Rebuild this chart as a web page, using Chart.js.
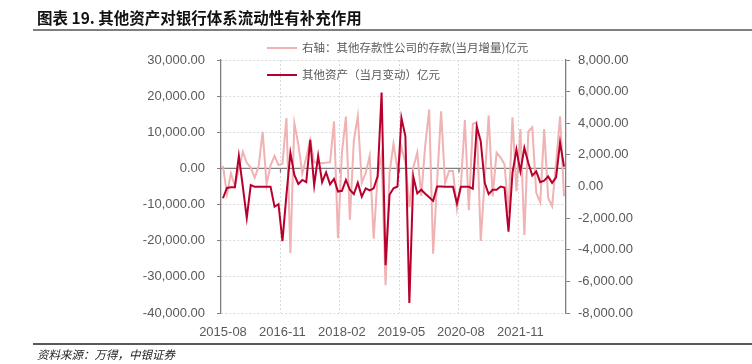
<!DOCTYPE html>
<html><head><meta charset="utf-8">
<script src="https://cdn.jsdelivr.net/npm/chart.js@4.4.1/dist/chart.umd.min.js"></script>
<style>
html,body{margin:0;padding:0;background:#fff;}
#wrap{position:relative;width:752px;height:364px;overflow:hidden;background:#fff;}
#c{position:absolute;left:0;top:0;}
#title{position:absolute;left:37px;top:7px;font-family:"Noto Sans CJK SC";font-weight:700;font-size:15.5px;color:#111;white-space:nowrap;line-height:20px;}
#tline{position:absolute;left:33px;right:0;top:29px;height:2px;background:#7f7f7f;}
#fline{position:absolute;left:33px;right:0;top:343px;height:1.5px;background:#595959;}
#foot{position:absolute;left:37px;top:346px;font-family:"Noto Sans CJK SC";font-style:italic;font-size:11.5px;color:#222;line-height:16px;white-space:nowrap;}
.lg{position:absolute;left:267px;font-family:"Noto Sans CJK SC";font-size:11.5px;color:#595959;white-space:nowrap;line-height:16px;height:16px;}
.lg i{display:inline-block;width:30px;height:0;border-top:2px solid;vertical-align:middle;margin-right:5px;position:relative;top:-1px;}
</style></head>
<body>
<div id="wrap">
<canvas id="c" width="752" height="364"></canvas>
<div id="title">图表 19. 其他资产对银行体系流动性有补充作用</div>
<div id="tline"></div>
<div class="lg" style="top:39px"><i style="border-color:#F0B2B2"></i>右轴：其他存款性公司的存款(当月增量)亿元</div>
<div class="lg" style="top:66px"><i style="border-color:#B8002E"></i>其他资产（当月变动）亿元</div>
<div id="fline"></div>
<div id="foot">资料来源：万得，中银证券</div>
</div>
<script>
const months = ['2015-08','2015-09','2015-10','2015-11','2015-12',
'2016-01','2016-02','2016-03','2016-04','2016-05','2016-06','2016-07','2016-08','2016-09','2016-10','2016-11','2016-12',
'2017-01','2017-02','2017-03','2017-04','2017-05','2017-06','2017-07','2017-08','2017-09','2017-10','2017-11','2017-12',
'2018-01','2018-02','2018-03','2018-04','2018-05','2018-06','2018-07','2018-08','2018-09','2018-10','2018-11','2018-12',
'2019-01','2019-02','2019-03','2019-04','2019-05','2019-06','2019-07','2019-08','2019-09','2019-10','2019-11','2019-12',
'2020-01','2020-02','2020-03','2020-04','2020-05','2020-06','2020-07','2020-08','2020-09','2020-10','2020-11','2020-12',
'2021-01','2021-02','2021-03','2021-04','2021-05','2021-06','2021-07','2021-08','2021-09','2021-10','2021-11','2021-12',
'2022-01','2022-02','2022-03','2022-04','2022-05','2022-06','2022-07','2022-08','2022-09','2022-10'];

const xTickLabels = ['2015-08','2016-11','2018-02','2019-05','2020-08','2021-11'];

// 右轴：其他存款性公司的存款(当月增量)亿元
const deposits = [1300,-500,830,50,1100,2200,1500,1200,550,1300,3460,130,1340,1930,1360,1440,4330,
-4200,4000,2680,810,1830,2950,1510,1510,1470,1510,1530,4120,-3270,2150,4420,-2100,2900,4450,
230,870,1930,-3300,660,2000,-6250,870,2700,1080,2500,1500,-1300,1200,2150,-600,2600,4860,
-4250,340,4750,230,980,980,-1420,130,4200,-1500,3950,4050,-3450,450,4480,-620,2150,1830,
1400,-1680,4380,-300,3630,-3060,3480,3740,-400,-1000,3630,-720,-1250,1500,4440,-620];

// 其他资产（当月变动）亿元（左轴）
const otherAssets = [-8250,-5400,-5200,-5200,3500,-5000,-13700,-4600,-5100,-5100,-5100,-5100,-5100,-10600,-9900,-20100,-7300,
4300,-1800,-4300,-3200,-3800,7900,-4700,3500,-3800,-1100,-4400,-2900,-6400,-6200,-3200,-5900,-7100,-4000,
-7800,-5500,-6100,-5500,-2200,21000,-26800,-7300,-5500,-5000,14000,8900,-37200,-2300,-6900,-5900,-7000,-8000,
-9000,-5000,-5000,-5100,-5100,-5100,-9700,-5100,-5100,-5100,-5600,11600,7500,-4000,-7100,-5900,-5900,-5000,
-5300,-17500,-1300,5200,-800,5700,1500,-2000,-800,-3800,-3400,-2200,-4000,-2500,7200,500];

const leftAxis = {min:-40000, max:30000, step:10000};
const rightAxis = {min:-8000, max:8000, step:2000};

const fmt = v => Number(v).toLocaleString('en-US',{minimumFractionDigits:2,maximumFractionDigits:2});
const tickFont = {family:'Liberation Sans', size:13};
const grey = '#7f7f7f';
const gridC = '#d9d9d9';

const zeroLine = {
  id:'zeroLine',
  beforeDatasetsDraw(chart){
    const {ctx, chartArea:a, scales:{x,y}} = chart;
    const y0 = y.getPixelForValue(0);
    ctx.save();
    ctx.strokeStyle = grey; ctx.lineWidth = 1.3;
    ctx.beginPath(); ctx.moveTo(a.left,y0); ctx.lineTo(a.right,y0);
    months.forEach((m,i)=>{
      if(i>0 && xTickLabels.includes(m)){
        const px = (x.getPixelForValue(i-1)+x.getPixelForValue(i))/2;
        ctx.moveTo(px,y0); ctx.lineTo(px,y0+4);
      }
    });
    ctx.stroke();
    ctx.restore();
  }
};

new Chart(document.getElementById('c'), {
  type:'line',
  data:{labels:months, datasets:[
    {label:'右轴：其他存款性公司的存款(当月增量)亿元', data:deposits, yAxisID:'y1', borderColor:'#F0B2B2', borderWidth:2, pointRadius:0, tension:0, order:1},
    {label:'其他资产（当月变动）亿元', data:otherAssets, yAxisID:'y', borderColor:'#B8002E', borderWidth:2, pointRadius:0, tension:0, order:0}
  ]},
  options:{
    responsive:false, animation:false, devicePixelRatio:1,
    layout:{padding:{top:60,left:0,right:0,bottom:21}},
    plugins:{legend:{display:false}, tooltip:{enabled:false}},
    scales:{
      x:{
        offset:true,
        grid:{offset:true, drawTicks:false, lineWidth:1,
          color: c => (c.index>0 && c.index%15===0) ? gridC : 'rgba(0,0,0,0)'},
        border:{display:false, dash:[2,2]},
        ticks:{autoSkip:false, maxRotation:0, minRotation:0, padding:12, color:'#595959', font:tickFont,
          callback:(v,i)=> xTickLabels.includes(months[i]) ? months[i] : ''},
        afterFit:s=>{s.height=30;}
      },
      y:{
        position:'left', min:leftAxis.min, max:leftAxis.max,
        ticks:{stepSize:leftAxis.step, padding:12, color:'#595959', font:tickFont, callback:fmt},
        grid:{color: c => (c.tick && c.tick.value===0) ? 'rgba(0,0,0,0)' : gridC, tickColor:grey, tickLength:4, drawTicks:true, lineWidth:1},
        border:{display:true, color:grey, width:1.3, dash:[2,2]},
        afterFit:s=>{s.width=221;}
      },
      y1:{
        position:'right', min:rightAxis.min, max:rightAxis.max,
        ticks:{stepSize:rightAxis.step, padding:8, color:'#595959', font:tickFont, callback:fmt},
        grid:{drawOnChartArea:false, tickColor:grey, tickLength:4, drawTicks:true},
        border:{display:true, color:grey, width:1.3},
        afterFit:s=>{s.width=186;}
      }
    }
  },
  plugins:[zeroLine]
});
</script>
</body></html>
